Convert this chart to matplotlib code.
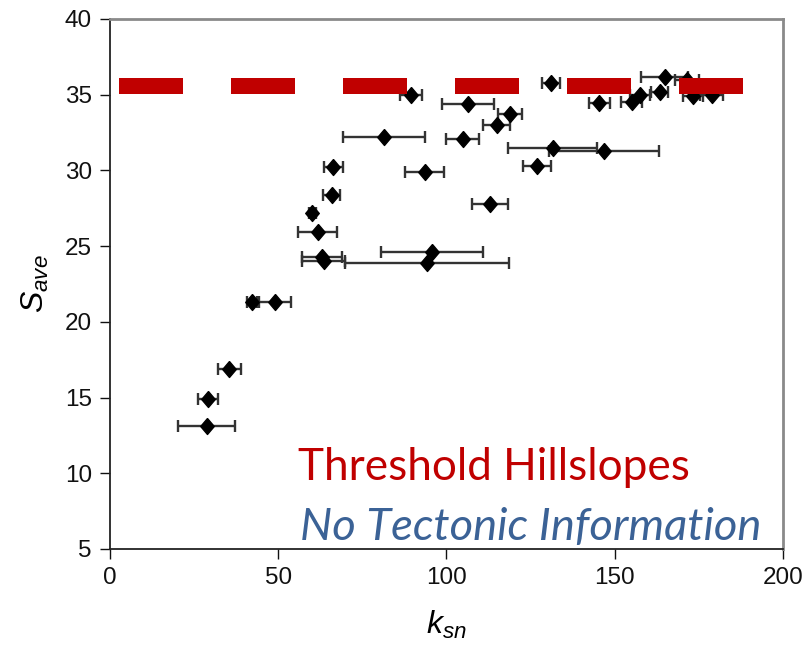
import matplotlib
matplotlib.use("Agg")
import matplotlib.pyplot as plt

# channel steepness and mean hillslope gradient per basin
k_sn = [28.7, 29.2, 35.5, 42.1, 49.0, 60.1, 61.7, 63.0, 63.5, 65.9, 66.4,
        81.5, 89.4, 93.6, 94.1, 95.6, 104.8, 106.5, 112.9, 114.9, 118.9,
        126.8, 131.0, 131.5, 145.4, 146.9, 155.0, 157.5, 163.4, 164.9,
        171.5, 173.3, 178.8]
s_ave = [13.1, 14.9, 16.9, 21.3, 21.3, 27.2, 25.9, 24.25, 24.0, 28.4, 30.2,
         32.2, 35.0, 29.9, 23.9, 24.6, 32.1, 34.4, 27.8, 33.0, 33.7,
         30.3, 35.75, 31.45, 34.45, 31.25, 34.55, 35.0, 35.2, 36.2,
         35.95, 34.9, 35.0]
k_sn_err = [8.6, 3.0, 3.4, 1.5, 4.7, 1.0, 5.8, 6.0, 6.3, 2.5, 2.9,
            12.2, 3.3, 5.8, 24.4, 15.1, 4.9, 7.7, 5.3, 4.1, 3.6,
            4.2, 2.7, 13.1, 3.1, 16.3, 3.0, 3.0, 2.5, 7.0,
            3.5, 3.0, 3.5]

# threshold hillslope gradient line
threshold_s = 35.57
threshold_k = [2.67, 188.1]

x_ticks = [0, 50, 100, 150, 200]
y_ticks = [5, 10, 15, 20, 25, 30, 35, 40]

plt.rcParams['font.family'] = ['Liberation Sans', 'DejaVu Sans']
plt.rcParams['mathtext.fontset'] = 'custom'
plt.rcParams['mathtext.it'] = 'Liberation Sans:italic'
plt.rcParams['mathtext.rm'] = 'Liberation Sans'

fig = plt.figure(figsize=(8.11, 6.46), dpi=100)
ax = fig.add_axes([0.1356, 0.1502, 0.8299, 0.8204])

ax.errorbar(k_sn, s_ave, xerr=k_sn_err, fmt='none', ecolor='#333333',
            elinewidth=1.7, capsize=4, capthick=1.7, zorder=2)
diamond = [(0, 1), (0.85, 0), (0, -1), (-0.85, 0), (0, 1)]
ax.plot(k_sn, s_ave, linestyle='none', marker=diamond, markersize=11.5,
        color='black', zorder=3)

ax.plot(threshold_k, [threshold_s, threshold_s], color='#C00000',
        linewidth=11.52, dashes=(4, 3), solid_capstyle='butt', zorder=4)

ax.set_xlim(0, 200)
ax.set_ylim(5, 40)
ax.set_xticks(x_ticks)
ax.set_yticks(y_ticks)
ax.tick_params(direction='out', length=7, width=1, labelsize=17.5, pad=6,
               colors='#111111')

for side in ['left', 'bottom']:
    ax.spines[side].set_color('#222222')
    ax.spines[side].set_linewidth(1.3)
for side in ['top', 'right']:
    ax.spines[side].set_color('#8a8a8a')
    ax.spines[side].set_linewidth(2)

ax.set_xlabel('$k_{sn}$', fontsize=23, labelpad=14)
ax.set_ylabel('$S_{ave}$', fontsize=23, labelpad=10)

ax.text(55.9, 9.55, 'Threshold Hillslopes', color='#C00000', fontsize=31.8,
        family=['Lato', 'DejaVu Sans'], ha='left', va='baseline')
ax.text(56.5, 5.59, 'No Tectonic Information', color='#3B6296', fontsize=32.7,
        family=['Lato', 'DejaVu Sans'], style='italic', ha='left',
        va='baseline')

fig.savefig('out.png', dpi=100)
